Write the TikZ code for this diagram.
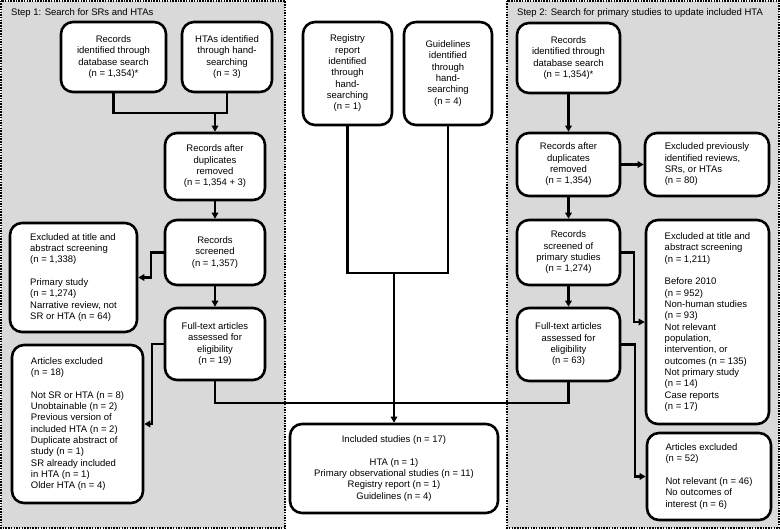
\documentclass[tikz,border=0pt]{standalone}
\usepackage{fontspec}
\setmainfont{Liberation Sans}
\usetikzlibrary{arrows.meta}
\definecolor{panelgray}{RGB}{217,217,217}
\tikzset{
  box/.style={draw=black, fill=white, line width=2.6pt, rounded corners=12pt,
    align=center, inner sep=2pt, font=\fontsize{9.5}{11.33}\selectfont},
  lbox/.style={box, align=left},
  conn/.style={line width=2.3pt, line join=miter},
  arr/.style={conn, -{Triangle[length=6pt,width=6.5pt]}},
  panel/.style={fill=panelgray, draw=black, line width=1.5pt, dash pattern=on 1.5pt off 1.2pt},
  steplabel/.style={anchor=west, inner sep=0pt, font=\fontsize{9.5}{11.33}\selectfont}
}
\begin{document}
\begin{tikzpicture}[x=1pt,y=-1pt]
\useasboundingbox (0,0) rectangle (780,530);
% panels
\draw[panel] (0.75,0.75) rectangle (285,528);
\draw[panel] (507,0.75) rectangle (779,528);
\node[steplabel] (s1) at (11,13) {Step 1: Search for SRs and HTAs};
\node[steplabel] (s2) at (517,13) {Step 2: Search for primary studies to update included HTA};

% left panel
\node[box, minimum width=105pt, minimum height=70pt] (L1) at (113.5,57) {Records\\identified through\\database search\\(n = 1,354)*};
\node[box, minimum width=90pt, minimum height=70pt] (L2) at (227,57) {HTAs identified\\through hand-\\searching\\(n = 3)};
\node[box, minimum width=100pt, minimum height=67pt] (L3) at (215,166.5) {Records after\\duplicates\\removed\\(n = 1,354 + 3)};
\node[box, minimum width=100pt, minimum height=65pt] (L4) at (215,252.5) {Records\\screened\\(n = 1,357)};
\node[box, minimum width=100pt, minimum height=72pt] (L5) at (215,344) {Full-text articles\\assessed for\\eligibility\\(n = 19)};
\node[lbox, minimum width=127pt, minimum height=109pt] (LE1) at (73.5,277.5) {Excluded at title and\\abstract screening\\(n = 1,338)\\[11.33pt]Primary study\\(n = 1,274)\\Narrative review, not\\SR or HTA (n = 64)};
\node[lbox, minimum width=131pt, minimum height=158pt] (LE2) at (77.5,424) {Articles excluded\\(n = 18)\\[11.33pt]Not SR or HTA (n = 8)\\Unobtainable (n = 2)\\Previous version of\\included HTA (n = 2)\\Duplicate abstract of\\study (n = 1)\\SR already included\\in HTA (n = 1)\\Older HTA (n = 4)};

% middle
\node[box, minimum width=89pt, minimum height=103pt] (REG) at (347.5,73.5) {Registry\\report\\identified\\through\\hand-\\searching\\(n = 1)};
\node[box, minimum width=88pt, minimum height=103pt] (GUI) at (448,73.5) {Guidelines\\identified\\through\\hand-\\searching\\(n = 4)};
\node[box, minimum width=208pt, minimum height=89pt] (INC) at (394,468.5) {Included studies (n = 17)\\[11.33pt]HTA (n = 1)\\Primary observational studies (n = 11)\\Registry report (n = 1)\\Guidelines (n = 4)};

% right panel
\node[box, minimum width=103pt, minimum height=70pt] (R1) at (568.5,58) {Records\\identified through\\database search\\(n = 1,354)*};
\node[box, minimum width=103pt, minimum height=63pt] (R2) at (568.5,164.5) {Records after\\duplicates\\removed\\(n = 1,354)};
\node[lbox, minimum width=124pt, minimum height=63pt] (RE1) at (707,164.5) {Excluded previously\\identified reviews,\\SRs, or HTAs\\(n = 80)};
\node[box, minimum width=103pt, minimum height=65pt] (R3) at (568.5,252.5) {Records\\screened of\\primary studies\\(n = 1,274)};
\node[lbox, minimum width=123pt, minimum height=204pt] (RE2) at (707.5,322) {Excluded at title and\\abstract screening\\(n = 1,211)\\[11.33pt]Before 2010\\(n = 952)\\Non-human studies\\(n = 93)\\Not relevant\\population,\\intervention, or\\outcomes (n = 135)\\Not primary study\\(n = 14)\\Case reports\\(n = 17)};
\node[box, minimum width=103pt, minimum height=73pt] (R4) at (568.5,344.5) {Full-text articles\\assessed for\\eligibility\\(n = 63)};
\node[lbox, minimum width=124pt, minimum height=87pt] (RE3) at (709,476.5) {Articles excluded\\(n = 52)\\[11.33pt]Not relevant (n = 46)\\No outcomes of\\interest (n = 6)};

% connectors left
\coordinate (j1) at (215,113);
\draw[conn] (L1.south) -- (L1.south |- j1) -| (L2.south);
\draw[arr] (j1) -- (L3.north);
\draw[arr] (L3.south) -- (L4.north);
\draw[arr] (L4.south) -- (L5.north);
\draw[arr] (L4.west) -- ++(-13,0) |- (LE1.east);
\draw[arr] (L5.west) -- ++(-12,0) |- (LE2.east);

% connectors middle
\coordinate (j2) at (394,273);
\draw[conn] (REG.south) -- (REG.south |- j2) -| (GUI.south);
\draw[arr] (j2) -- (INC.north);
\coordinate (j3) at (215,403);
\draw[conn] (L5.south) -- (j3) -| (R4.south);

% connectors right
\draw[arr] (R1.south) -- (R2.north);
\draw[arr] (R2.east) -- (RE1.west);
\draw[arr] (R2.south) -- (R3.north);
\draw[arr] (R3.south) -- (R4.north);
\draw[arr] (R3.east) -- ++(13,0) |- (RE2.west);
\draw[arr] (R4.east) -- ++(14,0) |- (RE3.west);
\end{tikzpicture}
\end{document}
